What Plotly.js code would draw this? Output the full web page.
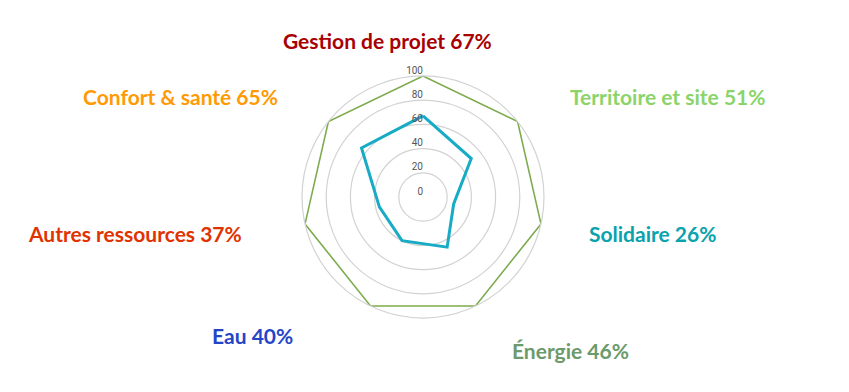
<!DOCTYPE html>
<html>
<head>
<meta charset="utf-8">
<script src="https://cdn.plot.ly/plotly-3.0.1.min.js"></script>
<style>html,body{margin:0;padding:0;background:#fff;}#chart{width:849px;height:392px;}</style>
</head>
<body>
<div id="chart"></div>
<script>
const categories = ["Gestion de projet", "Territoire et site", "Solidaire", "Énergie", "Eau", "Autres ressources", "Confort & santé"];
const scores = [67, 51, 26, 46, 40, 37, 65];
const maxScores = [100, 100, 100, 100, 100, 100, 100];
const labelColors = ["#a80000", "#8ad46a", "#0aa2ad", "#6b9a6b", "#2345c8", "#e03300", "#ff9a05"];
const radialTicks = [0, 20, 40, 60, 80, 100];

// label anchor positions in pixels (layout only)
const labelPos = [[387, 41], [667, 96], [652, 233], [570, 350], [252, 335], [135, 233], [180, 96]];

const W = 849, H = 392;
const close = a => a.concat([a[0]]);

const traces = [
  {
    type: 'scatterpolar', mode: 'lines',
    r: close(maxScores), theta: close(categories),
    line: {color: '#7eab4f', width: 1.6},
    hoverinfo: 'skip', showlegend: false
  },
  {
    type: 'scatterpolar', mode: 'lines',
    r: close(scores), theta: close(categories),
    line: {color: '#17abc6', width: 3},
    showlegend: false
  },
  {
    type: 'scatterpolar', mode: 'text',
    r: radialTicks, theta: radialTicks.map(() => categories[0]),
    text: radialTicks.map(String),
    textposition: 'top left',
    textfont: {family: 'Roboto, sans-serif', size: 10, color: '#555'},
    hoverinfo: 'skip', showlegend: false
  }
];

const annotations = categories.map((c, i) => ({
  text: '<b>' + c + ' ' + scores[i] + '%</b>',
  x: labelPos[i][0] / W, y: 1 - labelPos[i][1] / H,
  xref: 'paper', yref: 'paper', xanchor: 'center', yanchor: 'middle',
  showarrow: false,
  font: {family: 'Lato, sans-serif', size: 21, color: labelColors[i]}
}));

const cx = 423, cy = 197, R = 121;
const layout = {
  width: W, height: H,
  margin: {l: 0, r: 0, t: 0, b: 0},
  paper_bgcolor: '#fff', plot_bgcolor: '#fff',
  showlegend: false,
  polar: {
    domain: {x: [(cx - R) / W, (cx + R) / W], y: [1 - (cy + R) / H, 1 - (cy - R) / H]},
    bgcolor: 'rgba(0,0,0,0)',
    angularaxis: {
      direction: 'clockwise', rotation: 90,
      showticklabels: false, ticks: '', showgrid: false,
      showline: true, linecolor: '#d2d2d2', linewidth: 1.2
    },
    radialaxis: {
      range: [0, 100], dtick: 20, tick0: 0,
      showticklabels: false, ticks: '', showline: false,
      gridcolor: '#d2d2d2', gridwidth: 1.2
    }
  },
  annotations: annotations
};

Plotly.newPlot('chart', traces, layout, {displayModeBar: false, staticPlot: true});
</script>
</body>
</html>
